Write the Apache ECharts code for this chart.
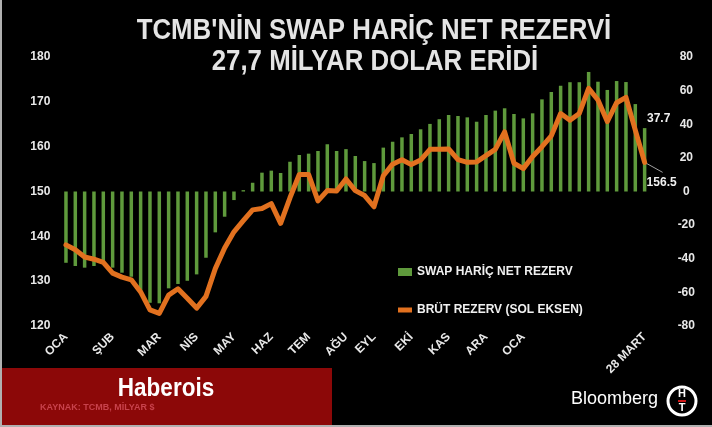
<!DOCTYPE html>
<html><head><meta charset="utf-8">
<script src="https://cdn.jsdelivr.net/npm/echarts@6/dist/echarts.min.js"></script>
<style>html,body{margin:0;padding:0;background:#000;}#c{width:712px;height:427px;}</style>
</head><body><div id="c"></div>
<script>
// Weekly categories (63 weeks)
const weeks = Array.from({length: 63}, (_, i) => 'H' + (i + 1));
// Month tick labels by week index
const tickLabels = {0:'OCA',5:'ŞUB',10:'MAR',14:'NİS',18:'MAY',22:'HAZ',26:'TEM',30:'AĞU',33:'EYL',37:'EKİ',41:'KAS',45:'ARA',49:'OCA',62:'28 MART'};

// SWAP HARİÇ NET REZERV (right axis, billion $)
const netReserve = [
  -42.4,-44.3,-45.3,-44.3,-42.5,-45.3,-48.3,-50.7,-60.6,-66.2,
  -66.5,-57.6,-55.0,-53.1,-49.3,-39.4,-24.3,-15.0,-5.1,0.8,
  5.2,11.2,12.4,11.0,17.7,21.7,22.5,24.1,28.1,24.1,
  25.2,21.1,18.1,16.9,26.1,29.6,32.2,34.2,37.0,40.2,
  43.0,45.5,44.9,44.1,41.5,45.5,48.1,49.5,46.1,43.5,
  46.5,54.8,59.2,62.9,65.0,65.0,71.1,65.3,60.4,65.7,
  65.1,52.0,37.7
];
// BRÜT REZERV (left axis, billion $)
const grossReserve = [
  138.1,137.0,135.4,134.9,134.2,131.8,130.9,130.3,127.6,123.6,
  122.8,126.9,128.3,126.2,124.0,126.6,132.8,137.4,141.0,143.5,
  145.9,146.2,147.3,142.9,148.6,153.8,153.8,147.9,150.2,150.1,
  152.8,150.2,149.1,146.6,153.5,156.1,157.1,156.0,157.0,159.4,
  159.4,159.5,157.1,156.5,156.6,158.0,159.4,163.3,156.3,155.1,
  157.8,160.0,162.4,167.4,165.9,167.4,173.0,170.4,165.6,169.8,
  171.0,163.7,156.5
];
const leftAxis = {min: 120, max: 180, step: 10};
const rightAxis = {min: -80, max: 80, step: 20};
const seriesNames = ['SWAP HARİÇ NET REZERV', 'BRÜT REZERV (SOL EKSEN)'];
const titleLines = ["TCMB'NİN SWAP HARİÇ NET REZERVİ", '27,7 MİLYAR DOLAR ERİDİ'];

const last = netReserve.length - 1;
const FONT = "'Liberation Sans', Arial, sans-serif";
const labelFont = {color: '#e8e8e8', fontWeight: 'bold', fontSize: 12, fontFamily: FONT};
const ORANGE = '#e2711f';

const chart = echarts.init(document.getElementById('c'));
const baseGraphic = [
  {type: 'text', x: 374, y: 31, scaleX: 0.89, z: 20, style: {text: titleLines[0], fill: '#e4e4e4', fontSize: 29, fontWeight: 'bold',
    fontFamily: FONT, align: 'center', verticalAlign: 'middle'}},
  {type: 'text', x: 375, y: 62, scaleX: 0.89, z: 20, style: {text: titleLines[1], fill: '#e4e4e4', fontSize: 29, fontWeight: 'bold',
    fontFamily: FONT, align: 'center', verticalAlign: 'middle'}},
  {type: 'rect', left: 0, top: 368, shape: {width: 332, height: 58}, style: {fill: '#8c0808'}, z: 10},
  {type: 'text', x: 166, y: 389, scaleX: 0.9, z: 11, style: {text: 'Haberois', fill: '#ffffff', fontSize: 25, fontWeight: 'bold',
    fontFamily: FONT, align: 'center', verticalAlign: 'middle'}},
  {type: 'text', left: 40, top: 403, z: 12, style: {text: 'KAYNAK: TCMB, MİLYAR $', fill: '#c8424c', fontSize: 9, fontWeight: 'bold',
    fontFamily: FONT}},
  {type: 'text', left: 571, top: 390, z: 11, style: {text: 'Bloomberg', fill: '#ffffff', fontSize: 18, fontFamily: FONT}},
  {type: 'circle', shape: {cx: 682, cy: 401, r: 14}, style: {fill: 'none', stroke: '#ffffff', lineWidth: 3}, z: 11},
  {type: 'text', x: 682, y: 394, z: 12, style: {text: 'H', fill: '#ffffff', fontSize: 11, fontWeight: 'bold', align: 'center', verticalAlign: 'middle', fontFamily: FONT}},
  {type: 'rect', shape: {x: 678, y: 400, width: 8, height: 2}, style: {fill: '#d01818'}, z: 12},
  {type: 'text', x: 682, y: 408, z: 12, style: {text: 'T', fill: '#ffffff', fontSize: 11, fontWeight: 'bold', align: 'center', verticalAlign: 'middle', fontFamily: FONT}},
  {type: 'rect', shape: {x: 0, y: 0, width: 2, height: 427}, style: {fill: '#b0b0b0'}, z: 13},
  {type: 'rect', shape: {x: 0, y: 425, width: 712, height: 2}, style: {fill: '#b0b0b0'}, z: 13}
];
chart.setOption({
  backgroundColor: '#000',
  animation: false,
  legend: {
    orient: 'vertical', left: 398, top: 266, padding: 0, itemGap: 26, itemWidth: 14, itemHeight: 8,
    textStyle: {color: '#f0f0f0', fontWeight: 'bold', fontSize: 12, fontFamily: FONT},
    data: [
      {name: seriesNames[0], icon: 'rect'},
      {name: seriesNames[1], icon: 'path://M0,0 L14,0 L14,5 L0,5 Z', itemStyle: {color: ORANGE}}
    ]
  },
  grid: {left: 61.3, right: 62.7, top: 57, bottom: 101},
  xAxis: {
    type: 'category', data: weeks, boundaryGap: true,
    axisLine: {show: false}, axisTick: {show: false},
    axisLabel: Object.assign({
      rotate: 45, margin: 9,
      interval: (i) => tickLabels[i] !== undefined,
      formatter: (v, i) => tickLabels[i] || ''
    }, labelFont)
  },
  yAxis: [
    {type: 'value', min: leftAxis.min, max: leftAxis.max, interval: leftAxis.step, position: 'left',
     splitLine: {show: false}, axisLine: {show: false}, axisTick: {show: false},
     axisLabel: Object.assign({margin: 11}, labelFont)},
    {type: 'value', min: rightAxis.min, max: rightAxis.max, interval: rightAxis.step, position: 'right',
     splitLine: {show: false}, axisLine: {show: false}, axisTick: {show: false},
     axisLabel: Object.assign({margin: 37, align: 'center'}, labelFont)}
  ],
  series: [
    {
      name: seriesNames[0], type: 'bar', yAxisIndex: 1, barWidth: 3.5,
      itemStyle: {color: '#5f9a3c'},
      data: netReserve.map((v, i) => i === last ? {value: v, label: {
        show: true, position: 'top', offset: [14, 2], formatter: '{c}',
        color: '#f0f0f0', fontWeight: 'bold', fontSize: 12, fontFamily: FONT}} : v)
    },
    {
      name: seriesNames[1], type: 'line', yAxisIndex: 0, z: 5,
      symbol: 'circle', symbolSize: 1, showSymbol: true, showAllSymbol: true,
      lineStyle: {color: ORANGE, width: 5, join: 'round', cap: 'round'},
      itemStyle: {color: ORANGE},
      labelLayout: (p) => p.dataIndex === last ? {dx: 17, dy: 9} : {},
      data: grossReserve.map((v, i) => i === last ? {value: v, label: {
        show: true, position: 'bottom', formatter: '{c}',
        color: '#f0f0f0', fontWeight: 'bold', fontSize: 12, fontFamily: FONT}} : v)
    }
  ],
  graphic: baseGraphic
});
// leader line from the last gross-reserve point to its label
const pt = chart.convertToPixel({xAxisIndex: 0, yAxisIndex: 0}, [last, grossReserve[last]]);
chart.setOption({graphic: baseGraphic.concat([
  {type: 'line', z: 4, shape: {x1: pt[0], y1: pt[1], x2: pt[0] + 18, y2: pt[1] + 10},
   style: {stroke: '#a0a0a0', lineWidth: 1}}
])});
</script></body></html>
